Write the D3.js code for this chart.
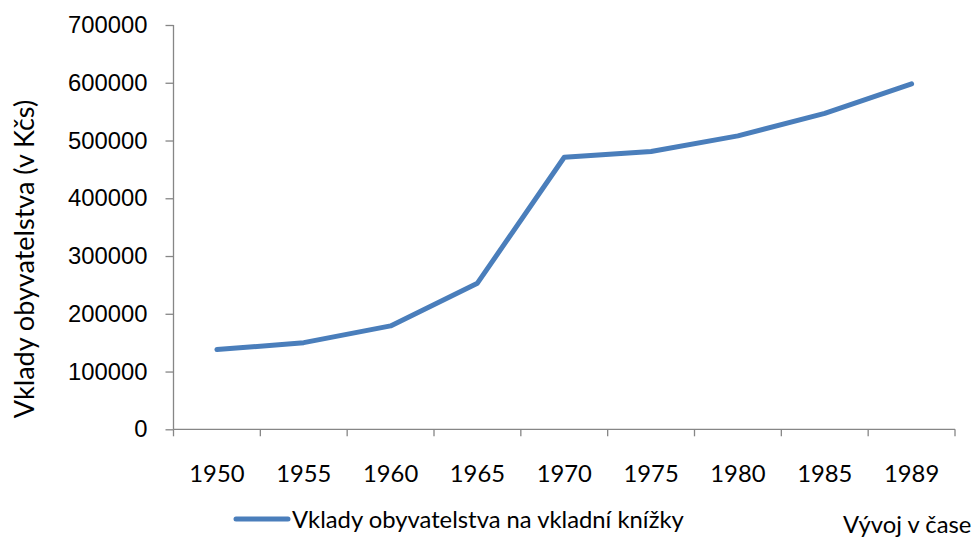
<!DOCTYPE html>
<meta charset="utf-8">
<style>
body { margin: 0; background: #fff; }
svg { font-family: Lato, "Open Sans", sans-serif; }
.axis path, .axis line { stroke: #868686; stroke-width: 1.3px; }
.axis text { fill: #000; font-size: 23.8px; }
.line { fill: none; stroke: #4a7ebb; stroke-width: 5px; stroke-linejoin: round; stroke-linecap: round; }
</style>
<svg width="975" height="538"></svg>
<script src="https://cdnjs.cloudflare.com/ajax/libs/d3/7.8.5/d3.min.js"></script>
<script>

var years = ["1950", "1955", "1960", "1965", "1970", "1975", "1980", "1985", "1989"];
var deposits = [138000, 150000, 179000, 253000, 471000, 481000, 508000, 547000, 598000];
var yTicks = [0, 100000, 200000, 300000, 400000, 500000, 600000, 700000];
var seriesName = "Vklady obyvatelstva na vkladní knížky";

var svg = d3.select("svg"),
    margin = {top: 25, right: 20, bottom: 109, left: 173.5},
    g = svg.append("g").attr("transform", "translate(" + margin.left + "," + margin.top + ")");

var x = d3.scaleBand().domain(years).range([0, 781.5]).padding(0),
    y = d3.scaleLinear().domain([0, 700000]).range([404.3, 0]);

// x axis with ticks between categories
var xAxis = g.append("g")
    .attr("class", "axis")
    .attr("transform", "translate(0," + y(0) + ")");
xAxis.append("line").attr("x1", 0).attr("x2", x.range()[1]);
xAxis.selectAll(".tick-mark")
    .data(d3.range(years.length + 1))
  .enter().append("line")
    .attr("x1", function(i) { return i * x.bandwidth(); })
    .attr("x2", function(i) { return i * x.bandwidth(); })
    .attr("y1", 0).attr("y2", 7);
xAxis.selectAll("text")
    .data(years)
  .enter().append("text")
    .attr("x", function(d) { return x(d) + x.bandwidth() / 2; })
    .attr("y", 52.5)
    .attr("text-anchor", "middle")
    .text(function(d) { return d; });

g.append("g")
    .attr("class", "axis")
    .call(d3.axisLeft(y).tickValues(yTicks).tickSize(8).tickPadding(18).tickFormat(d3.format("d")))
    .call(function(a) { a.select(".domain").attr("d", "M0," + y(0) + "V" + y(700000)); });

var line = d3.line()
    .x(function(d, i) { return x(years[i]) + x.bandwidth() / 2; })
    .y(function(d) { return y(d); });

g.append("path")
    .datum(deposits)
    .attr("class", "line")
    .attr("d", line);

svg.append("text")
    .attr("transform", "translate(34,259) rotate(-90)")
    .attr("text-anchor", "middle")
    .style("font-size", "27px")
    .text("Vklady obyvatelstva (v Kčs)");

// legend
svg.append("line")
    .attr("class", "line")
    .attr("x1", 236).attr("x2", 288)
    .attr("y1", 519).attr("y2", 519);
svg.append("text")
    .attr("x", 292).attr("y", 528)
    .style("font-size", "23.8px")
    .text(seriesName);

svg.append("text")
    .attr("x", 843).attr("y", 533)
    .style("font-size", "23.8px")
    .text("Vývoj v čase");
</script>
